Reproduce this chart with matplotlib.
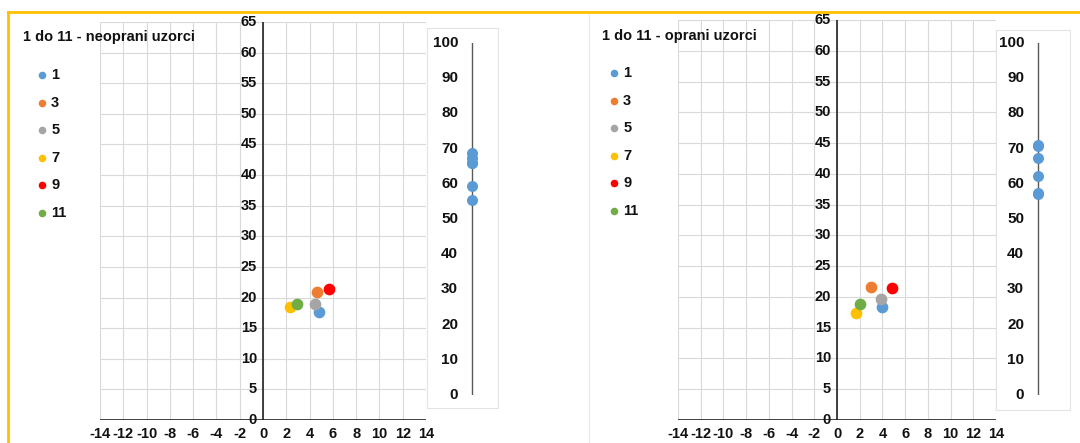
import matplotlib
matplotlib.use('Agg')
import matplotlib.pyplot as plt
import matplotlib.transforms as mtransforms
from matplotlib.patches import Rectangle
from matplotlib.lines import Line2D

plt.rcParams['font.family'] = ['Liberation Sans', 'DejaVu Sans']
plt.rcParams['font.weight'] = 'bold'

# data (a*, b*, L*)
samples = ['1', '3', '5', '7', '9', '11']
colors = ['#5B9BD5', '#ED7D31', '#A5A5A5', '#FFC000', '#FF0000', '#70AD47']

a_neoprani = [4.8, 4.6, 4.5, 2.3, 5.7, 2.9]
b_neoprani = [17.7, 20.9, 18.9, 18.4, 21.4, 19.0]
L_neoprani = [68.7, 67.4, 66.0, 65.8, 59.4, 55.4]

a_oprani = [4.0, 3.0, 3.9, 1.7, 4.8, 2.0]
b_oprani = [18.4, 21.6, 19.7, 17.4, 21.5, 18.9]
L_oprani = [71.0, 70.6, 67.3, 62.2, 57.4, 57.2]

x_ticks = list(range(-14, 15, 2))
y_ticks = list(range(0, 66, 5))
L_ticks = list(range(0, 101, 10))

W, H = 1080, 443
fig = plt.figure(figsize=(W / 100, H / 100), dpi=100)
fig.patch.set_facecolor('white')

TXT = '#111111'
GRID = '#D9D9D9'


def px_axes(left, top, right, bottom, z=0):
    # axes placed by pixel box (top-left origin)
    return fig.add_axes([left / W, 1 - bottom / H, (right - left) / W, (bottom - top) / H], zorder=z)


def fig_line(x0, y0, x1, y1, color, lw):
    fig.add_artist(Line2D([x0 / W, x1 / W], [1 - y0 / H, 1 - y1 / H],
                          transform=fig.transFigure, color=color, lw=lw, zorder=5))


def fig_box(left, top, right, bottom, edge):
    fig.add_artist(Rectangle((left / W, 1 - bottom / H), (right - left) / W, (bottom - top) / H,
                             transform=fig.transFigure, facecolor='white', edgecolor=edge,
                             lw=0.8, zorder=2))


def ab_chart(box, a, b, title, title_xy, legend_xy):
    ax = px_axes(*box)
    ax.set_xlim(-14, 14)
    ax.set_ylim(0, 65)
    ax.set_xticks(x_ticks)
    ax.set_xticklabels([str(t) for t in x_ticks])
    ax.set_yticks(y_ticks)
    ax.tick_params(length=0, labelleft=False, labelsize=10.5, colors=TXT, pad=5)
    ax.grid(True, color=GRID, lw=0.8)
    ax.set_axisbelow(True)
    for s in ax.spines.values():
        s.set_visible(False)
    ax.axvline(0, color='#222222', lw=1.2, zorder=2)
    ax.axhline(0, color='#222222', lw=1.2, zorder=2)
    off = mtransforms.offset_copy(ax.transData, fig=fig, x=-6, y=0, units='dots')
    for t in y_ticks:
        ax.text(0, t, str(t), transform=off, ha='right', va='center',
                fontsize=10.5, color=TXT, zorder=3)
    handles = []
    for i in range(len(samples)):
        h = ax.scatter(a[i], b[i], s=55, color=colors[i], zorder=4, label=samples[i])
        handles.append(h)
    fig.text(title_xy[0] / W, 1 - title_xy[1] / H, title, fontsize=10.5, color=TXT,
             ha='left', va='center')
    fig.legend(handles=handles, labels=samples, loc='upper left',
               bbox_to_anchor=(legend_xy[0] / W, 1 - legend_xy[1] / H),
               frameon=False, fontsize=10.5, labelspacing=0.93, handlelength=0.6,
               handletextpad=0.3, markerscale=0.6, borderpad=0, borderaxespad=0,
               labelcolor=TXT)
    return ax


def L_chart(box, line_x, L):
    fig_box(*box, edge='#E3E3E3')
    ax = px_axes(line_x - 20, 43, line_x + 20, 395, z=3)
    ax.set_xlim(-1, 1)
    ax.set_ylim(0, 100)
    ax.axis('off')
    ax.plot([0, 0], [0, 100], color='#595959', lw=1.0, zorder=2)
    ax.scatter([0] * len(L), L, s=48, color='#5B9BD5', zorder=3, clip_on=False)
    off = mtransforms.offset_copy(ax.transData, fig=fig, x=-14, y=0, units='dots')
    for t in L_ticks:
        ax.text(0, t, str(t), transform=off, ha='right', va='center',
                fontsize=11, color=TXT)
    return ax


# outer frames
fig_line(8, 12, 1080, 12, '#FFC000', 2.0)
fig_line(8, 12, 8, 443, '#FFC000', 2.0)
fig_line(589, 14, 589, 443, '#EBEBEB', 1.0)

ab_chart((100, 22, 426, 420), a_neoprani, b_neoprani,
         '1 do 11 - neoprani uzorci', (23, 37), (38, 68))
L_chart((427, 28, 498, 408), 472, L_neoprani)

ab_chart((678, 20, 996, 420), a_oprani, b_oprani,
         '1 do 11 - oprani uzorci', (602, 36), (610, 66))
L_chart((996, 30, 1070, 410), 1038, L_oprani)

fig.savefig('out.png', dpi=100)
